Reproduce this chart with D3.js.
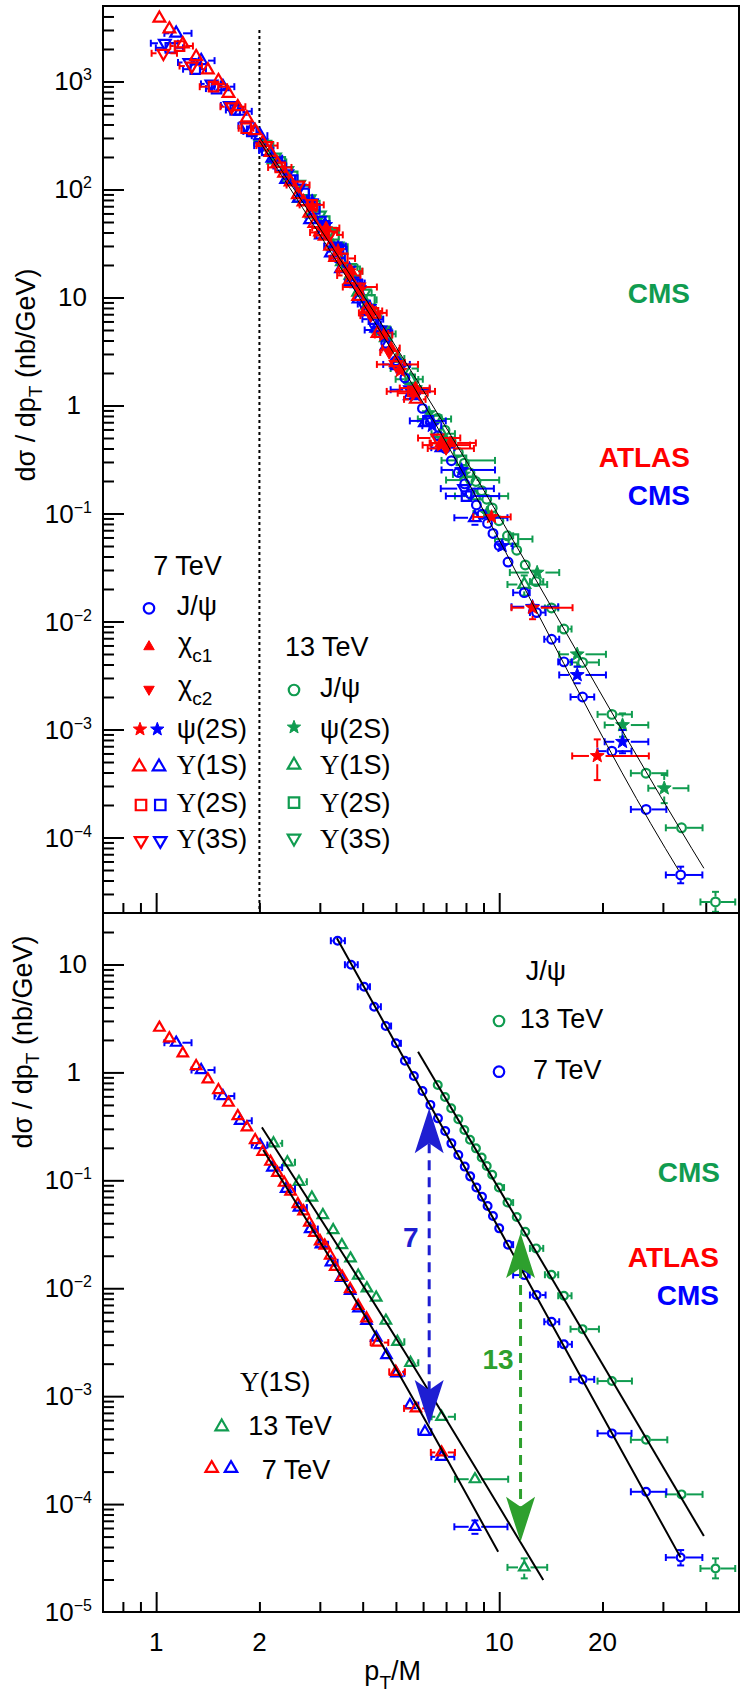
<!DOCTYPE html>
<html><head><meta charset="utf-8">
<script src="https://cdn.jsdelivr.net/npm/d3@7"></script>
<style>
html,body{margin:0;padding:0;background:#fff;}
svg{display:block;}
text{font-family:"Liberation Sans",Arial,Helvetica,sans-serif;fill:#000;}
</style></head><body>
<svg id="chart" width="746" height="1701" viewBox="0 0 746 1701"></svg>
<script>
// ===================== DATA =====================
// axis tick labels
const xTickLabels = [1, 2, 10, 20];
const yTopExponents = [3, 2, 1, 0, -1, -2, -3, -4];
const yBotExponents = [1, 0, -1, -2, -3, -4, -5];

// J/psi CMS 7 TeV (blue circles): x=pT/M, xlo, xhi, y(bottom panel), y(top panel) [, yBotLo, yBotHi, yTopLo, yTopHi]
const jpsi7 = [
[3.38,3.23,3.55,16.6,23.2],[3.70,3.55,3.87,9.95,13.9],[4.04,3.87,4.20,6.22,8.7],[4.32,4.20,4.52,4.06,5.7],
[4.67,4.52,4.84,2.69,3.77],[5.00,4.84,5.17,1.86,2.6],[5.31,5.17,5.49,1.283,1.80],[5.64,5.49,5.81,0.926,1.30],
[5.975,5.81,6.14,0.672,0.94],[6.30,6.14,6.46,0.50,0.70],[6.63,6.46,6.78,0.3753,0.525],[6.96,6.78,7.10,0.2862,0.40],
[7.255,7.10,7.43,0.220,0.308],[7.60,7.43,7.75,0.1715,0.240],[7.935,7.75,8.07,0.134,0.188],[8.23,8.07,8.40,0.1088,0.152],
[8.58,8.40,8.72,0.0857,0.120],[8.91,8.72,9.04,0.0704,0.0986],[9.25,9.04,9.36,0.0578,0.081],[9.59,9.36,9.69,0.0467,0.0654],
[10.0,9.69,10.33,0.0359,0.0503],[10.61,10.33,10.98,0.02535,0.0355],[11.83,10.98,12.27,0.01324,0.0185],
[12.85,12.29,13.65,0.00865,0.0121],[14.21,13.53,14.96,0.00489,0.00685],[15.44,14.86,16.29,0.00302,0.00423],
[17.5,16.14,18.92,0.00143,0.0020],[21.3,19.35,24.3,4.52e-4,6.3e-4,4.3e-4,4.75e-4,6.0e-4,6.65e-4],
[26.8,24.2,30.7,1.30e-4,1.82e-4,1.2e-4,1.4e-4,1.68e-4,1.96e-4],[33.8,30.6,39.1,3.2e-5,4.5e-5,2.7e-5,3.75e-5,3.77e-5,5.37e-5]
];
// J/psi CMS 13 TeV (green circles), same values in both panels: x, xlo, xhi, y [, ylo, yhi]
const jpsi13 = [
[6.62,6.46,6.78,0.764],[6.95,6.78,7.10,0.591],[7.245,7.10,7.43,0.4647],[7.60,7.43,7.75,0.3674],
[7.915,7.75,8.07,0.2924],[8.22,8.07,8.40,0.2377],[8.555,8.40,8.72,0.1978],[8.89,8.72,9.04,0.1626],
[9.196,9.04,9.36,0.1356],[9.54,9.36,9.69,0.1126],[9.98,9.69,10.33,0.0857],[10.57,10.33,10.98,0.0622],
[11.25,10.98,11.62,0.0457],[11.91,11.62,12.27,0.0334],[12.81,12.29,13.44,0.0234],[14.2,13.59,14.86,0.01334],
[15.44,14.86,16.25,0.00852],[17.5,16.14,19.53,0.00418],[21.31,19.35,24.37,0.00138],[26.78,24.2,30.9,3.94e-4],
[34.0,30.6,39.15,1.23e-4],[42.7,38.6,48.75,2.53e-5,2.05e-5,3.14e-5]
];
// Upsilon(1S) ATLAS 7 TeV (red open triangles): x, xlo, xhi, y(bottom), y(top) [, yBotLo, yBotHi, yTopLo, yTopHi]
const ups1R = [
[1.022,null,null,2.595,3846],[1.093,null,null,2.07,3069],[1.196,null,null,1.503,2228],[1.308,null,null,1.146,1698],
[1.415,null,null,0.863,1279],[1.519,null,null,0.687,1018],[1.625,null,null,0.5236,776],[1.730,null,null,0.394,584],
[1.839,null,null,0.3097,459],[1.944,null,null,0.236,350],[2.044,null,null,0.184,273],[2.154,null,null,0.1487,220],
[2.256,null,null,0.1175,174],[2.361,null,null,0.095,141],[2.466,null,null,0.0787,117],[2.589,null,null,0.0603,89.3],
[2.689,null,null,0.0516,76.5],[2.797,null,null,0.0406,60.2],[2.892,null,null,0.0326,48.3],[3.007,null,null,0.0272,40.3],
[3.101,null,null,0.02486,36.9],[3.216,3.16,3.27,0.0201,29.8],[3.326,3.27,3.38,0.0158,23.4],[3.486,3.38,3.59,0.01278,18.9],
[3.678,3.59,3.78,0.00983,14.6],[3.881,3.78,3.99,0.00687,10.2],[4.104,3.99,4.22,0.00526,7.79],[4.418,4.22,4.75,0.003138,4.65],
[4.995,4.78,5.31,0.00168,2.49],[5.716,5.28,6.10,7.7e-4,1.14],[6.79,6.32,7.43,3.01e-4,0.447,2.75e-4,3.3e-4,0.408,0.489]
];
// Upsilon(1S) CMS 7 TeV (blue open triangles)
const ups1B = [
[1.144,1.057,1.268,1.884,2793],[1.353,1.268,1.48,1.052,1560],[1.565,1.48,1.69,0.604,895],[1.758,1.69,1.90,0.3565,529],
[2.01,1.90,2.11,0.2123,315],[2.182,2.11,2.33,0.1313,195],[2.393,2.33,2.54,0.0834,124],[2.608,2.54,2.75,0.0559,82.9],
[2.812,2.75,2.96,0.03535,52.4],[3.023,2.96,3.17,0.02556,37.9],[3.233,3.17,3.38,0.0174,25.8],[3.46,3.38,3.59,0.0125,18.5],
[3.678,3.59,3.81,0.00945,14.0],[3.89,3.81,4.02,0.00651,9.66],[4.104,4.02,4.23,0.00498,7.39],[4.38,4.23,4.55,0.00349,5.18],
[4.692,4.55,4.86,0.0024,3.56],[5.019,4.86,5.29,0.001626,2.41],[5.492,5.29,5.81,8.27e-4,1.23],[6.073,5.81,6.34,4.68e-4,0.693],
[6.79,6.34,7.40,2.74e-4,0.407],[8.497,7.40,10.57,6.16e-5,0.0913,5.3e-5,7.05e-5,0.0786,0.1045]
];
// Upsilon(1S) CMS 13 TeV (green open triangles)
const ups1G = [
[2.198,2.11,2.33,0.2202,187.5],[2.413,2.33,2.54,0.147,125],[2.608,2.54,2.75,0.097,82.6],[2.844,2.75,2.96,0.0692,58.9],
[3.062,2.96,3.17,0.0477,40.6],[3.281,3.17,3.38,0.0346,29.5],[3.479,3.38,3.59,0.02513,21.4],[3.686,3.59,3.81,0.0189,16.1],
[3.881,3.81,4.02,0.0131,11.2],[4.115,4.02,4.23,0.00997,8.49],[4.38,4.23,4.55,0.0082,6.98],[4.674,4.55,4.86,0.005,4.25],
[5.05,4.86,5.29,0.00319,2.72],[5.514,5.29,5.81,0.00204,1.74],[6.79,6.35,7.43,6.44e-4,0.548],[8.497,7.43,10.62,1.70e-4,0.145],
[11.83,10.57,13.8,2.59e-5,0.022,2.05e-5,3.14e-5,0.0174,0.0267]
];
// top panel only: x, xlo, xhi, y [, ylo, yhi]
const ups2R = [[1.17,1.10,1.28,2130],[1.47,1.34,1.61,895],[1.83,1.74,1.92,369],[2.30,2.12,2.48,160],[2.85,2.62,3.08,72],
[3.50,3.20,3.80,23],[4.30,3.90,4.70,7.2],[5.60,4.70,6.50,1.35]];
const ups3R = [[1.05,0.97,1.15,1825],[1.27,1.17,1.36,1390],[1.66,1.54,1.82,584],[2.10,1.96,2.26,255],[2.60,2.40,2.80,110],
[3.20,2.90,3.50,38],[3.90,3.50,4.40,12.5],[5.00,4.40,5.80,2.4],[6.60,5.80,7.70,0.5]];
const ups2B = [[1.10,0.998,1.198,2050],[1.30,1.198,1.397,1300],[1.50,1.397,1.597,860],[1.70,1.597,1.796,545],[1.90,1.796,1.996,345],
[2.10,1.996,2.196,230],[2.30,2.196,2.395,165],[2.50,2.395,2.595,122],[2.70,2.595,2.794,92],[2.90,2.794,2.994,66],
[3.10,2.994,3.194,46],[3.40,3.194,3.593,28],[3.80,3.593,3.992,13.8],[4.30,3.992,4.591,6.3],[5.00,4.591,5.489,2.4],
[6.20,5.489,6.986,0.72],[8.03,6.99,10.0,0.145]];
const ups3B = [[1.06,0.965,1.158,2260],[1.25,1.158,1.351,1500],[1.45,1.351,1.544,950],[1.64,1.544,1.737,600],[1.83,1.737,1.931,390],
[2.03,1.931,2.124,255],[2.22,2.124,2.317,185],[2.41,2.317,2.51,140],[2.61,2.51,2.703,103],[2.80,2.703,2.896,74],
[3.00,2.896,3.089,52],[3.33,3.089,3.571,30],[3.81,3.571,4.054,13.6],[4.50,4.054,4.826,5.0],[5.50,4.826,6.274,1.4],
[7.90,6.756,9.65,0.17]];
const ups2G = [[2.10,1.996,2.196,255],[2.30,2.196,2.395,180],[2.50,2.395,2.595,132],[2.70,2.595,2.794,98],[2.90,2.794,2.994,71],
[3.10,2.994,3.194,51],[3.30,3.194,3.393,38],[3.50,3.393,3.593,28],[3.80,3.593,3.992,17.5],[4.20,3.992,4.391,9.5],
[4.70,4.391,4.99,4.6],[5.50,4.99,5.988,1.75],[7.76,6.79,9.72,0.31],[11.0,9.72,12.5,0.058]];
const ups3G = [[2.03,1.931,2.124,270],[2.22,2.124,2.317,200],[2.41,2.317,2.51,150],[2.61,2.51,2.703,112],[2.80,2.703,2.896,82],
[3.00,2.896,3.089,58],[3.20,3.089,3.282,41],[3.38,3.282,3.475,30],[3.67,3.475,3.861,19],[4.05,3.861,4.247,11],
[4.60,4.247,4.826,5.0],[5.30,4.826,5.792,2.2],[6.50,5.792,7.24,0.75],[8.20,7.0,10.0,0.204]];
const psi2R = [[2.85,2.71,2.98,70],[3.12,2.98,3.26,43],[3.39,3.26,3.53,27],[3.66,3.53,3.80,17.5],[3.93,3.80,4.07,11.8],
[4.20,4.07,4.34,7.8],[4.61,4.34,4.88,4.5],[5.15,4.88,5.43,2.1],[5.70,5.43,5.97,1.4],[6.79,5.98,8.22,0.43],
[9.50,8.40,10.8,0.093],[12.51,10.86,16.36,0.01342,0.0105,0.0155],[19.31,16.32,27.3,5.69e-4,3.4e-4,8.1e-4]];
const psi2B = [[2.85,2.71,2.98,78],[3.12,2.98,3.26,47],[3.39,3.26,3.53,29],[3.66,3.53,3.80,18.5],[3.93,3.80,4.07,12.2],
[4.20,4.07,4.34,8.2],[4.61,4.34,4.88,4.7],[5.15,4.88,5.43,2.25],[5.70,5.43,5.97,1.25],[6.38,5.97,6.78,0.65],
[7.77,6.79,9.72,0.253],[10.2,9.72,10.94,0.050],[12.5,10.86,14.86,0.0137],[16.88,14.96,20.47,0.0032,0.00268,0.00382],
[22.88,20.3,27.2,7.7e-4,6.03e-4,9.9e-4]];
const psi2G = [[5.70,5.43,5.97,1.45],[6.24,5.97,6.51,0.85],[6.92,6.51,7.33,0.47],[7.87,7.33,8.41,0.23],[9.20,8.41,9.77,0.10],
[12.9,10.74,14.96,0.0284],[16.88,14.96,20.47,0.00497,0.00382,0.00585],[22.88,20.3,27.2,0.0011,8.57e-4,0.00141],
[30.27,27.2,35.6,2.86e-4,2.08e-4,3.79e-4]];
const chic1 = [[3.13,2.85,3.42,44],[3.70,3.42,3.99,17.5],[4.27,3.99,4.56,7.5],[4.84,4.56,5.13,3.4],[5.70,5.13,6.27,1.45],[7.20,6.27,8.55,0.45]];
const chic2 = [[3.10,2.81,3.37,40],[3.66,3.37,3.94,16],[4.22,3.94,4.50,6.8],[4.78,4.50,5.06,3.1],[5.62,5.06,6.19,1.3],[7.00,6.19,8.44,0.40]];

// fit curves: [x, y]
const fitTop7  = [[2.0,281],[3.556,16.2],[5.44,1.80],[6.42,0.734],[30.5,7.94e-5],[33.3,5.0e-5]];
const fitTop13 = [[2.0,306],[3.678,16.2],[6.79,0.734],[36.4,7.94e-5],[39.5,5.19e-5]];
const fitBotJpsi7  = [[3.364,17.5],[10,0.03535],[33.78,3.2e-5]];
const fitBotJpsi13 = [[5.80,1.555],[39.5,5.05e-5]];
const fitBotUps13  = [[2.033,0.3097],[5.26,0.002674],[13.44,1.975e-5]];
const fitBotUps7   = [[2.051,0.1908],[4.65,0.002674],[9.93,3.61e-5]];
// arrows (bottom panel): x, tip up, tip down
const arrow7  = {x:6.25,  yUp:0.4645, yDown:5.4e-4, label:'7'};
const arrow13 = {x:11.54, yUp:0.0325, yDown:4.47e-5, label:'13'};
const fitThreshold = 2; // dotted line

// ===================== DRAWING =====================
const RED='#ff0000', BLUE='#0000ff', GREEN='#109c50', ABLUE='#1e1ed2', AGREEN='#2ea02e';
const X0=103, X1=739, Y0=6, YM=913, Y1=1612;
const svg=d3.select('#chart');
const x=d3.scaleLog().domain([0.7,50]).range([X0,X1]);
const yT=d3.scaleLog().domain([2e-5,5000]).range([YM,Y0]);
const yB=d3.scaleLog().domain([1e-5,30]).range([Y1,YM]);

const defs=svg.append('defs');
defs.append('clipPath').attr('id','cT').append('rect').attr('x',X0).attr('y',Y0).attr('width',X1-X0).attr('height',YM-Y0);
defs.append('clipPath').attr('id','cB').append('rect').attr('x',X0).attr('y',YM).attr('width',X1-X0).attr('height',Y1-YM);
const gT=svg.append('g').attr('clip-path','url(#cT)');
const gB=svg.append('g').attr('clip-path','url(#cB)');

const SIZE={circle:7.8,tri:10.5,triDown:10.5,square:8.5,star:13,triF:10.5,triDownF:10.5};
const FILLED={star:1,triF:1,triDownF:1};
function shapeD(shape,s){
  const h=s*0.866;
  switch(shape){
    case 'circle': {const r=s/2; return `M${r},0A${r},${r} 0 1,1 ${-r},0A${r},${r} 0 1,1 ${r},0Z`;}
    case 'tri': case 'triF': return `M0,${-2*h/3}L${s/2},${h/3}L${-s/2},${h/3}Z`;
    case 'triDown': case 'triDownF': return `M0,${2*h/3}L${s/2},${-h/3}L${-s/2},${-h/3}Z`;
    case 'square': return `M${-s/2},${-s/2}h${s}v${s}h${-s}Z`;
    case 'star': {const R=s/2, r=R*0.42; let p='';
      for(let i=0;i<10;i++){const a=-Math.PI/2+i*Math.PI/5, rr=i%2?r:R; p+=(i?'L':'M')+(rr*Math.cos(a)).toFixed(2)+','+(rr*Math.sin(a)).toFixed(2);}
      return p+'Z';}
  }
}
function drawMarker(g,shape,cx,cy,color,s){
  g.append('path').attr('d',shapeD(shape,s)).attr('transform',`translate(${cx},${cy})`)
   .attr('fill',FILLED[shape]?color:'none').attr('stroke',color).attr('stroke-width',FILLED[shape]?1:2.2);
}
function drawPoints(g,pts,yS,shape,color,scale){
  const s=SIZE[shape]*scale, gap=s/2+1, cap=3.5;
  const eg=g.append('g').attr('stroke',color).attr('stroke-width',2).attr('fill','none');
  const seg=(a,b,c,d)=>eg.append('line').attr('x1',a).attr('y1',b).attr('x2',c).attr('y2',d);
  pts.forEach(p=>{
    const px=x(p.x), py=yS(p.y);
    if(p.xl!=null){const a=x(p.xl),b=x(p.xh);
      if(px-a>gap){seg(a,py,px-gap,py);seg(a,py-cap,a,py+cap);}
      if(b-px>gap){seg(px+gap,py,b,py);seg(b,py-cap,b,py+cap);}}
    if(p.yl!=null){const a=yS(p.yh),b=yS(p.yl);
      if(py-a>gap){seg(px,a,px,py-gap);seg(px-cap,a,px+cap,a);}
      if(b-py>gap){seg(px,py+gap,px,b);seg(px-cap,b,px+cap,b);}}
  });
  pts.forEach(p=>drawMarker(g,shape,x(p.x),yS(p.y),color,s));
}
const single = rows=>rows.map(r=>({x:r[0],xl:r[1],xh:r[2],y:r[3],yl:r[4]??null,yh:r[5]??null}));
const sharedBot = rows=>rows.map(r=>({x:r[0],xl:r[1],xh:r[2],y:r[3],yl:r[5]??null,yh:r[6]??null}));
const sharedTop = rows=>rows.map(r=>({x:r[0],xl:r[1],xh:r[2],y:r[4],yl:r[7]??null,yh:r[8]??null}));

// ---- top panel ----
const TS=1.12, BS=1.0;
gT.append('line').attr('x1',x(fitThreshold)).attr('x2',x(fitThreshold)).attr('y1',yT(3000)).attr('y2',YM)
  .attr('stroke','#000').attr('stroke-width',2).attr('stroke-dasharray','3,3');
drawPoints(gT,single(ups3G),yT,'triDown',GREEN,TS);
drawPoints(gT,single(ups2G),yT,'square',GREEN,TS);
drawPoints(gT,sharedTop(ups1G),yT,'tri',GREEN,TS);
drawPoints(gT,single(psi2G),yT,'star',GREEN,TS);
drawPoints(gT,single(jpsi13),yT,'circle',GREEN,TS);
drawPoints(gT,single(ups3B),yT,'triDown',BLUE,TS);
drawPoints(gT,single(ups2B),yT,'square',BLUE,TS);
drawPoints(gT,sharedTop(ups1B),yT,'tri',BLUE,TS);
drawPoints(gT,single(psi2B),yT,'star',BLUE,TS);
drawPoints(gT,sharedTop(jpsi7),yT,'circle',BLUE,TS);
drawPoints(gT,single(ups3R),yT,'triDown',RED,TS);
drawPoints(gT,single(ups2R),yT,'square',RED,TS);
drawPoints(gT,sharedTop(ups1R),yT,'tri',RED,TS);
drawPoints(gT,single(psi2R),yT,'star',RED,TS);
drawPoints(gT,single(chic2),yT,'triDownF',RED,TS);
drawPoints(gT,single(chic1),yT,'triF',RED,TS);
const lineT=d3.line().x(d=>x(d[0])).y(d=>yT(d[1])).curve(d3.curveMonotoneX);
const lineB=d3.line().x(d=>x(d[0])).y(d=>yB(d[1])).curve(d3.curveMonotoneX);
[fitTop7,fitTop13].forEach(f=>gT.append('path').attr('d',lineT(f)).attr('fill','none').attr('stroke','#000').attr('stroke-width',1));

// ---- bottom panel ----
drawPoints(gB,sharedBot(ups1G),yB,'tri',GREEN,BS);
drawPoints(gB,sharedBot(ups1B),yB,'tri',BLUE,BS);
drawPoints(gB,sharedBot(ups1R),yB,'tri',RED,BS);
drawPoints(gB,single(jpsi13),yB,'circle',GREEN,BS);
drawPoints(gB,sharedBot(jpsi7),yB,'circle',BLUE,BS);
[fitBotJpsi7,fitBotJpsi13,fitBotUps13,fitBotUps7].forEach(f=>gB.append('path').attr('d',lineB(f)).attr('fill','none').attr('stroke','#000').attr('stroke-width',2));

function drawArrow(a,color){
  const px=x(a.x), t1=yB(a.yUp), t2=yB(a.yDown), L=45, N=35, HW=14.5;
  gB.append('line').attr('x1',px).attr('x2',px).attr('y1',t1+N).attr('y2',t2-N)
    .attr('stroke',color).attr('stroke-width',3).attr('stroke-dasharray','10,7');
  gB.append('path').attr('d',`M${px},${t1}L${px-HW},${t1+L}L${px},${t1+N}L${px+HW},${t1+L}Z`).attr('fill',color);
  gB.append('path').attr('d',`M${px},${t2}L${px-HW},${t2-L}L${px},${t2-N}L${px+HW},${t2-L}Z`).attr('fill',color);
}
drawArrow(arrow7,ABLUE);
drawArrow(arrow13,AGREEN);

// ---- axes ----
function logTicks(lo,hi){const maj=[],min=[];for(let e=-6;e<=4;e++)for(let k=1;k<10;k++){const v=k*Math.pow(10,e);
  if(v<=lo*1.001||v>=hi*0.999)continue;(k===1?maj:min).push(v);}return {maj,min};}
function styleAxis(g){g.select('.domain').remove();g.attr('color','#000');g.selectAll('line').attr('stroke-width',2);g.selectAll('text').remove();}
const xt=logTicks(0.7,50);
[YM,Y1].forEach(yy=>{
  const g1=svg.append('g').attr('transform',`translate(0,${yy})`).call(d3.axisBottom(x).tickValues(xt.maj).tickSize(-20).tickFormat(''));styleAxis(g1);
  const g2=svg.append('g').attr('transform',`translate(0,${yy})`).call(d3.axisBottom(x).tickValues(xt.min).tickSize(-10).tickFormat(''));styleAxis(g2);
});
[[yT,2e-5,5000],[yB,1e-5,30]].forEach(([ys,lo,hi])=>{
  const t=logTicks(lo,hi);
  const g1=svg.append('g').attr('transform',`translate(${X0},0)`).call(d3.axisLeft(ys).tickValues(t.maj).tickSize(-21).tickFormat(''));styleAxis(g1);
  const g2=svg.append('g').attr('transform',`translate(${X0},0)`).call(d3.axisLeft(ys).tickValues(t.min).tickSize(-11).tickFormat(''));styleAxis(g2);
});
// frame
svg.append('path').attr('d',`M${X0},${Y0}H${X1}V${Y1}H${X0}Z M${X0},${YM}H${X1}`).attr('fill','none').attr('stroke','#000').attr('stroke-width',2);

// ---- text helper ----
function label(xp,yp,segs,o={}){
  const t=svg.append('text').attr('x',xp).attr('y',yp).attr('font-size',o.size||27).attr('text-anchor',o.anchor||'start');
  if(o.bold)t.attr('font-weight','bold');
  if(o.color)t.style('fill',o.color);
  if(o.transform)t.attr('transform',o.transform);
  let shift=0;
  (typeof segs==='string'?[{t:segs}]:segs).forEach(s=>{
    const sp=t.append('tspan').text(s.t);
    const target=s.sub?(s.dy||9):s.sup?(s.dy||-10):0;
    if(target!==shift){sp.attr('dy',target-shift);shift=target;}
    if(s.sub||s.sup)sp.attr('font-size',s.fs||19);
    if(s.serif)sp.style('font-family','"Liberation Serif","Times New Roman",serif');
  });
  return t;
}
// y tick labels
function yLabels(ys,exps){
  exps.forEach(e=>{
    const py=ys(Math.pow(10,e))+9;
    if(e===0)label(81,py,'1',{anchor:'end',size:26});
    else if(e===1)label(87,py,'10',{anchor:'end',size:26});
    else label(92,py,[{t:'10'},{t:(e<0?'\u2212':'')+Math.abs(e),sup:true,fs:16,dy:-10}],{anchor:'end',size:26});
  });
}
yLabels(yT,yTopExponents);
yLabels(yB,yBotExponents);
xTickLabels.forEach(v=>label(x(v),1650.5,String(v),{anchor:'middle',size:26}));
// axis titles
const ytitle=[{t:'d\u03c3 / dp'},{t:'T',sub:true,dy:7},{t:' (nb/GeV)'}];
label(0,0,ytitle,{anchor:'middle',transform:'translate(35,375) rotate(-90)'});
label(0,0,ytitle,{anchor:'middle',transform:'translate(32,1042) rotate(-90)'});
label(421,1680,[{t:'p'},{t:'T',sub:true,dy:9},{t:'/M'}],{anchor:'end'});

// ---- experiment labels ----
label(690,303,'CMS',{bold:1,color:GREEN,anchor:'end',size:28});
label(690,466.7,'ATLAS',{bold:1,color:RED,anchor:'end',size:28});
label(690,505,'CMS',{bold:1,color:BLUE,anchor:'end',size:28});
label(720,1181.7,'CMS',{bold:1,color:GREEN,anchor:'end',size:28});
label(719,1266.7,'ATLAS',{bold:1,color:RED,anchor:'end',size:28});
label(719,1305,'CMS',{bold:1,color:BLUE,anchor:'end',size:28});
label(410.7,1246.7,arrow7.label,{bold:1,color:ABLUE,anchor:'middle',size:28});
label(498,1369.3,arrow13.label,{bold:1,color:AGREEN,anchor:'middle',size:28});

// ---- legends ----
const UPS=n=>[{t:'\u03a5',serif:1},{t:'('+n+'S)'}];
const LS={circle:10.5,tri:12.5,triDown:12.5,square:10.5,star:14,triF:10.5,triDownF:10.5};
const lm=(shape,cx,cy,color)=>drawMarker(svg,shape,cx,cy,color,LS[shape]);
label(153.3,575,'7 TeV');
lm('circle',149,608.3,BLUE); label(176.7,615,'J/\u03c8');
lm('triF',149,646.7,RED); label(178,652,[{t:'\u03c7'},{t:'c1',sub:1,dy:10}]);
lm('triDownF',149,689.3,RED); label(178,695,[{t:'\u03c7'},{t:'c2',sub:1,dy:10}]);
lm('star',140,729.3,RED); lm('star',157.3,729.3,BLUE); label(176.7,738,'\u03c8(2S)');
lm('tri',139.3,766.7,RED); lm('tri',159,766.7,BLUE); label(176.7,774,UPS(1));
lm('square',141,805,RED); lm('square',160.3,805,BLUE); label(176.7,811.7,UPS(2));
lm('triDown',141,840.7,RED); lm('triDown',160.3,840.7,BLUE); label(176.7,848.3,UPS(3));
label(285,656,'13 TeV');
lm('circle',294,690,GREEN); label(320,696.7,'J/\u03c8');
lm('star',294,727.3,GREEN); label(320,738,'\u03c8(2S)');
lm('tri',294,765,GREEN); label(320,774,UPS(1));
lm('square',294,802.7,GREEN); label(320,811.7,UPS(2));
lm('triDown',294,838.3,GREEN); label(320,848,UPS(3));
// bottom legends
label(525.7,980,'J/\u03c8');
lm('circle',499,1021,GREEN); label(519.7,1028.3,'13 TeV');
lm('circle',499,1071.7,BLUE); label(533,1079.3,'7 TeV');
label(240,1391,UPS(1));
lm('tri',221.7,1426.7,GREEN); label(248.3,1435,'13 TeV');
lm('tri',211.7,1468.3,RED); lm('tri',231,1468.3,BLUE); label(261.7,1479,'7 TeV');
</script></body></html>
